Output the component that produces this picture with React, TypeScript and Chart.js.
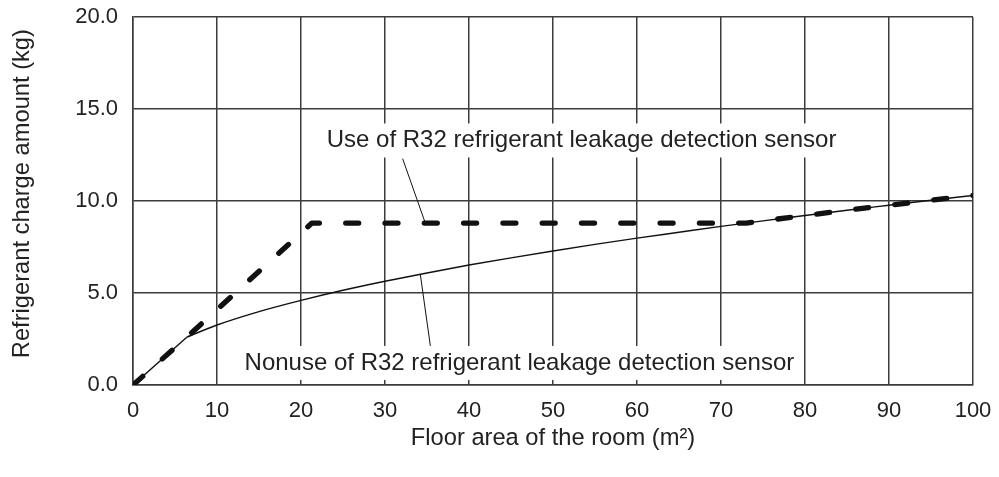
import React, { useEffect, useRef } from "react";
import { Chart, registerables } from "chart.js";

Chart.register(...registerables);

// Floor area of the room (m²)
const nonuseX = [0, 6.4, 10, 15, 20, 25, 30, 35, 40, 45, 50, 55, 60, 65, 70, 75, 80, 85, 90, 95, 100];
// Refrigerant charge amount (kg) without sensor
const nonuseY = [0, 2.6, 3.26, 3.99, 4.6, 5.15, 5.64, 6.09, 6.52, 6.91, 7.28, 7.64, 7.98, 8.3, 8.62, 8.92, 9.21, 9.5, 9.77, 10.04, 10.3];

const useX = [0, 6.4, 21.3, 73, 75, 80, 85, 90, 95, 100];
const useY = [0, 2.6, 8.8, 8.8, 8.92, 9.21, 9.5, 9.77, 10.04, 10.3];

const xTicks = [0, 10, 20, 30, 40, 50, 60, 70, 80, 90, 100];
const yTicks = [0, 5, 10, 15, 20];

const xTitle = "Floor area of the room (m²)";
const yTitle = "Refrigerant charge amount (kg)";
const useLabel = "Use of R32 refrigerant leakage detection sensor";
const nonuseLabel = "Nonuse of R32 refrigerant leakage detection sensor";

const FONT = "'Liberation Sans', Arial, Helvetica, sans-serif";

const annotationPlugin = {
  id: "callouts",
  afterDatasetsDraw(chart: any) {
    const { ctx, scales } = chart;
    const xs = scales.x;
    const ys = scales.y;
    const items = [
      { text: useLabel, cx: 53.4, cy: 13.29, from: [32.1, 12.3], to: [34.8, 8.8] },
      { text: nonuseLabel, cx: 46.0, cy: 1.2, from: [35.4, 2.12], to: [34.2, 6.03] },
    ];
    ctx.save();
    for (const it of items) {
      ctx.beginPath();
      ctx.strokeStyle = "#111";
      ctx.lineWidth = 1;
      ctx.moveTo(xs.getPixelForValue(it.from[0]), ys.getPixelForValue(it.from[1]));
      ctx.lineTo(xs.getPixelForValue(it.to[0]), ys.getPixelForValue(it.to[1]));
      ctx.stroke();
      ctx.font = `24px ${FONT}`;
      const w = ctx.measureText(it.text).width;
      const px = xs.getPixelForValue(it.cx);
      const py = ys.getPixelForValue(it.cy);
      ctx.fillStyle = "#fff";
      ctx.fillRect(px - w / 2 - 5, py - 17, w + 10, 34);
      ctx.fillStyle = "#222";
      ctx.textAlign = "center";
      ctx.textBaseline = "middle";
      ctx.fillText(it.text, px, py);
    }
    // y-axis title
    ctx.translate(22, ys.getPixelForValue(10.4));
    ctx.rotate(-Math.PI / 2);
    ctx.font = `23.7px ${FONT}`;
    ctx.fillStyle = "#222";
    ctx.textAlign = "center";
    ctx.textBaseline = "middle";
    ctx.fillText(yTitle, 0, 0);
    ctx.restore();
  },
};

export default function App() {
  const ref = useRef<HTMLCanvasElement>(null);
  useEffect(() => {
    document.body.style.margin = "0";
    const canvas = ref.current!;
    const split = 2;
    const chart = new Chart(canvas, {
      type: "line",
      data: {
        datasets: [
          {
            label: "Nonuse (linear part)",
            data: nonuseX.slice(0, split).map((x, i) => ({ x, y: nonuseY[i] })),
            borderColor: "#111",
            borderWidth: 1.4,
            pointRadius: 0,
            tension: 0,
            fill: false,
          },
          {
            label: "Nonuse",
            data: nonuseX.slice(split - 1).map((x, i) => ({ x, y: nonuseY[i + split - 1] })),
            borderColor: "#111",
            borderWidth: 1.4,
            pointRadius: 0,
            cubicInterpolationMode: "monotone",
            fill: false,
          },
          {
            label: "Use",
            data: useX.map((x, i) => ({ x, y: useY[i] })),
            borderColor: "#111",
            borderWidth: 5.3,
            borderDash: [13, 26.3],
            borderCapStyle: "round",
            borderJoinStyle: "round",
            pointRadius: 0,
            tension: 0,
            fill: false,
          },
        ],
      },
      options: {
        responsive: false,
        animation: false,
        devicePixelRatio: 1,
        layout: { padding: { top: 17, right: 26, left: 0, bottom: 0 } },
        plugins: { legend: { display: false }, tooltip: { enabled: false } },
        scales: {
          x: {
            type: "linear",
            min: 0,
            max: 100,
            afterBuildTicks: (s: any) => {
              s.ticks = xTicks.map((v) => ({ value: v }));
            },
            afterFit: (s: any) => {
              s.height = 92;
              s.paddingLeft = 0;
              s.paddingRight = 0;
            },
            grid: { color: "#3c3c3c", lineWidth: 1.5, drawTicks: false },
            border: { color: "#3c3c3c", width: 1.5 },
            ticks: {
              color: "#222",
              font: { family: FONT, size: 22 },
              padding: 13,
              maxRotation: 0,
              callback: (v: any) => String(v),
            },
            title: {
              display: true,
              text: xTitle,
              color: "#222",
              font: { family: FONT, size: 23.7 },
              padding: { top: 24, bottom: 24 },
            },
          },
          y: {
            type: "linear",
            min: 0,
            max: 20,
            afterBuildTicks: (s: any) => {
              s.ticks = yTicks.map((v) => ({ value: v }));
            },
            afterFit: (s: any) => {
              s.width = 133;
              s.paddingTop = 0;
              s.paddingBottom = 0;
            },
            grid: { color: "#3c3c3c", lineWidth: 1.5, drawTicks: false },
            border: { color: "#3c3c3c", width: 1.5 },
            ticks: {
              color: "#222",
              font: { family: FONT, size: 22 },
              padding: 15,
              callback: (v: any) => Number(v).toFixed(1),
            },
            title: { display: false },
          },
        },
      },
      plugins: [annotationPlugin],
    } as any);
    return () => chart.destroy();
  }, []);
  return <canvas ref={ref} width={999} height={477} style={{ display: "block" }} />;
}
